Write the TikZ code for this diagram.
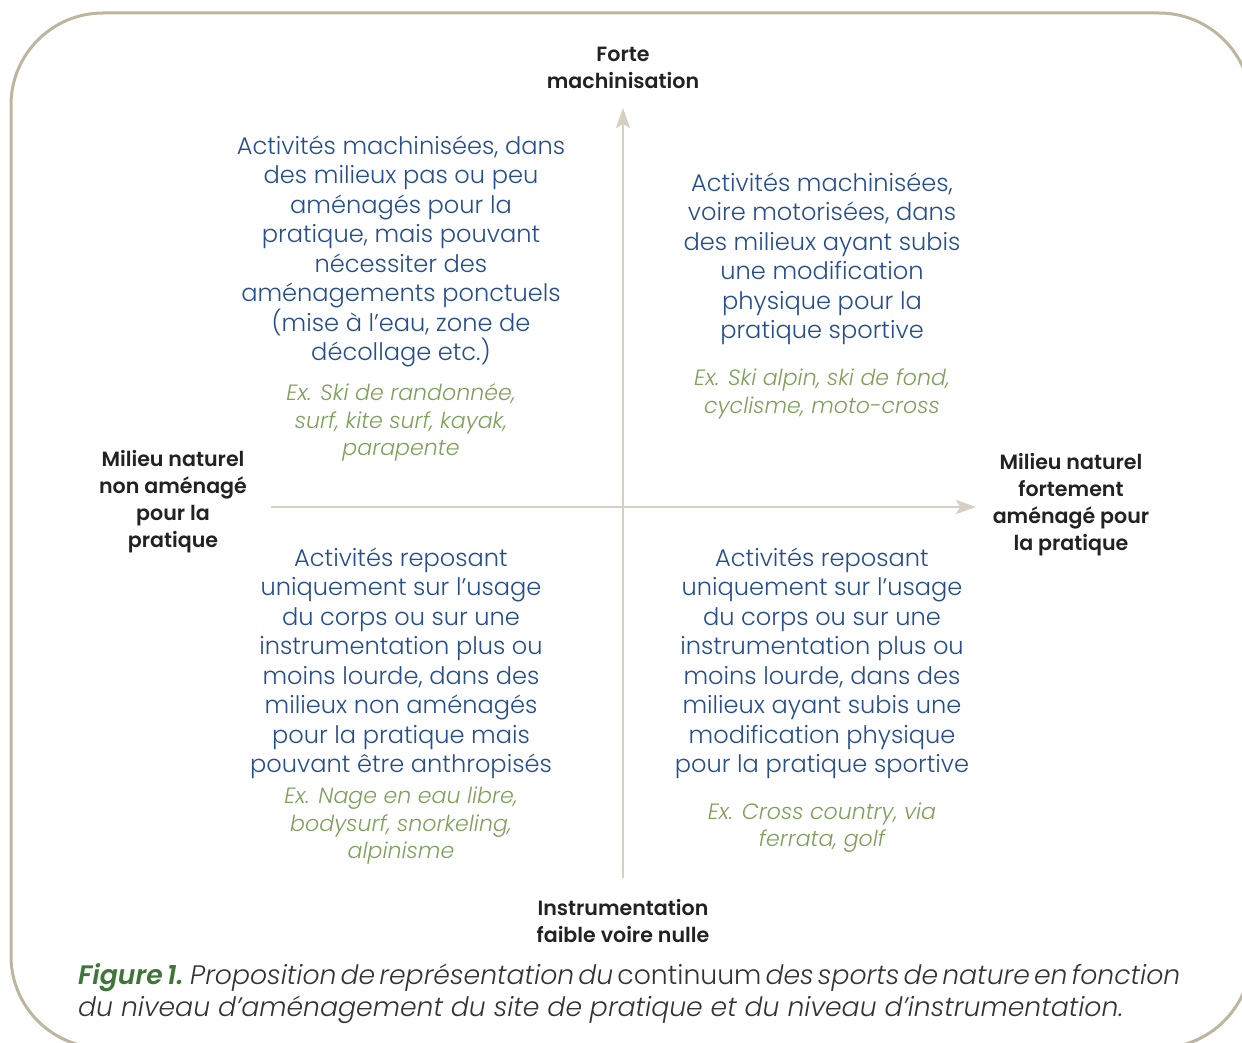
\documentclass[tikz,border=0pt]{standalone}
\usepackage{fontspec}
\setmainfont{Poppins}
\newfontfamily\poplight{Poppins}[UprightFont={* Light}, ItalicFont={* Light Italic}, BoldFont={* SemiBold}, BoldItalicFont={* SemiBold Italic}]
\newfontfamily\popsemi{Poppins}[UprightFont={* SemiBold}]
\usetikzlibrary{arrows.meta}
\definecolor{frame}{RGB}{190,181,160}
\definecolor{axis}{RGB}{214,208,194}
\definecolor{bluetxt}{RGB}{38,78,140}
\definecolor{greentxt}{RGB}{125,160,90}
\definecolor{figgreen}{RGB}{62,118,58}
\definecolor{darktxt}{RGB}{34,34,34}
\definecolor{captxt}{RGB}{51,51,51}
\tikzset{
  axisline/.style={draw=axis, line width=2.4pt, -{Stealth[length=20pt,width=14pt,inset=4pt]}},
  axislabel/.style={inner sep=0pt, align=center, text=darktxt, font=\popsemi\fontsize{20.6}{27}\selectfont},
  quadtext/.style={inner sep=0pt, align=center, text=bluetxt, font=\poplight\fontsize{24.1}{29.5}\selectfont},
  extext/.style={inner sep=0pt, align=center, text=greentxt, font=\poplight\fontsize{22.1}{27.5}\selectfont\itshape},
  captiontext/.style={inner sep=0pt, align=left, text=captxt, font=\poplight\fontsize{26.7}{32}\selectfont\itshape},
}
\begin{document}
\begin{tikzpicture}[x=1pt,y=-1pt]
\useasboundingbox (0,0) rectangle (1242,1043);
\begin{scope}
\clip (0,0) rectangle (1242,1043);
\draw[frame, line width=3pt, rounded corners=92pt] (11,13) rectangle (1251,1048);
\end{scope}
% axes
\coordinate (vbot) at (623,878);
\coordinate (vtop) at (623,108);
\coordinate (hleft) at (271,507);
\coordinate (hright) at (976,507);
\draw[axisline] (vbot) -- (vtop);
\draw[axisline] (hleft) -- (hright);
% axis labels
\node[axislabel] (top) at (623,67.5) {Forte\\machinisation};
\node[axislabel] (bottom) at (623,921.5) {Instrumentation\\faible voire nulle};
\node[axislabel] (left) at (173,501.5) {Milieu naturel\\non aménagé\\pour la\\pratique};
\node[axislabel] (right) at (1071,504.5) {Milieu naturel\\fortement\\aménagé pour\\la pratique};
% quadrants
\node[quadtext] (tl) at (401,251.5) {Activités machinisées, dans\\des milieux pas ou peu\\aménagés pour la\\pratique, mais pouvant\\nécessiter des\\aménagements ponctuels\\(mise à l’eau, zone de\\décollage etc.)};
\node[extext] (tlex) at (401,422.5) {Ex. Ski de randonnée,\\surf, kite surf, kayak,\\parapente};
\node[quadtext] (tr) at (822,259) {Activités machinisées,\\voire motorisées, dans\\des milieux ayant subis\\une modification\\physique pour la\\pratique sportive};
\node[extext] (trex) at (822,394) {Ex. Ski alpin, ski de fond,\\cyclisme, moto-cross};
\node[quadtext] (bl) at (401,663.5) {Activités reposant\\uniquement sur l’usage\\du corps ou sur une\\instrumentation plus ou\\moins lourde, dans des\\milieux non aménagés\\pour la pratique mais\\pouvant être anthropisés};
\node[extext] (blex) at (401,826) {Ex. Nage en eau libre,\\bodysurf, snorkeling,\\alpinisme};
\node[quadtext] (br) at (822,663.5) {Activités reposant\\uniquement sur l’usage\\du corps ou sur une\\instrumentation plus ou\\moins lourde, dans des\\milieux ayant subis une\\modification physique\\pour la pratique sportive};
\node[extext] (brex) at (822,827.5) {Ex. Cross country, via\\ferrata, golf};
% caption
\node[captiontext, anchor=west] (caption) at (78,994) {{\spaceskip=4.1pt plus 1pt{\color{figgreen}\bfseries Figure 1.} Proposition de représentation du {\upshape continuum} des sports de nature en fonction}\\du niveau d’aménagement du site de pratique et du niveau d’instrumentation.};
\end{tikzpicture}
\end{document}
